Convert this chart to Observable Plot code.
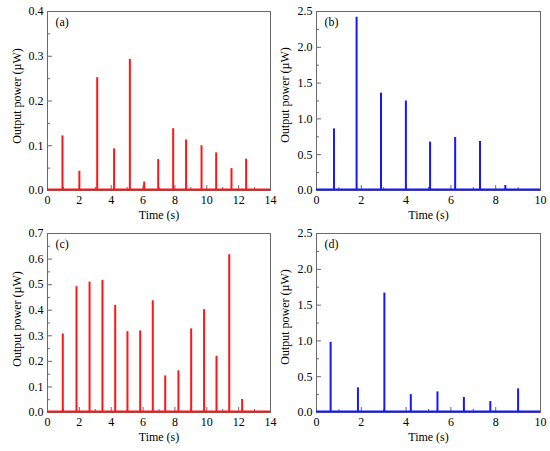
<!DOCTYPE html>
<html><head><meta charset="utf-8">
<script src="https://cdn.jsdelivr.net/npm/d3@7"></script>
<script src="https://cdn.jsdelivr.net/npm/@observablehq/plot@0.6"></script>
<style>
body{margin:0;background:#fff;}
#wrap{position:relative;width:550px;height:451px;background:#fff;overflow:hidden;}
#wrap svg{position:absolute;}
</style></head><body><div id="wrap"></div>
<script>
// Panel (a)
const timesA = [0.94, 2.0, 3.12, 4.18, 5.17, 6.07, 6.95, 7.89, 8.70, 9.67, 10.59, 11.55, 12.47];
const powerA = [0.122, 0.043, 0.252, 0.093, 0.293, 0.019, 0.069, 0.138, 0.113, 0.100, 0.084, 0.049, 0.070];
// Panel (b)
const timesB = [0.78, 1.79, 2.88, 3.99, 5.07, 6.19, 7.30, 8.43];
const powerB = [0.86, 2.42, 1.36, 1.25, 0.675, 0.74, 0.685, 0.07];
// Panel (c)
const timesC = [0.96, 1.82, 2.64, 3.45, 4.25, 5.02, 5.82, 6.61, 7.39, 8.22, 9.02, 9.83, 10.61, 11.41, 12.22];
const powerC = [0.307, 0.492, 0.510, 0.517, 0.419, 0.316, 0.319, 0.437, 0.143, 0.163, 0.327, 0.402, 0.220, 0.617, 0.051];
// Panel (d)
const timesD = [0.63, 1.85, 3.03, 4.21, 5.40, 6.58, 7.76, 9.0];
const powerD = [0.98, 0.344, 1.668, 0.25, 0.288, 0.209, 0.153, 0.33];

// Tick values
const xTicks14 = [0, 2, 4, 6, 8, 10, 12, 14];
const xMinor14 = [1, 3, 5, 7, 9, 11, 13];
const xTicks10 = [0, 2, 4, 6, 8, 10];
const xMinor10 = [1, 3, 5, 7, 9];
const yTicksA = [0, 0.1, 0.2, 0.3, 0.4];
const yMinorA = [0.05, 0.15, 0.25, 0.35];
const yTicksB = [0, 0.5, 1.0, 1.5, 2.0, 2.5];
const yMinorB = [0.25, 0.75, 1.25, 1.75, 2.25];
const yTicksC = [0, 0.1, 0.2, 0.3, 0.4, 0.5, 0.6, 0.7];
const yMinorC = [0.05, 0.15, 0.25, 0.35, 0.45, 0.55, 0.65];

const xLabel = "Time (s)";
const yLabel = "Output power (\u00B5W)";
const RED = "#ff1616";
const BLUE = "#1616ff";
const FONT = "Liberation Serif";
const FS = 12;

function panel(o) {
  const innerW = o.w - o.ml - o.mr;
  const innerH = o.h - o.mt - o.mb;
  const fmtY = d3.format(".1f");
  const t = {fontFamily: FONT, fontSize: FS, fill: "black"};
  const svg = Plot.plot({
    width: o.w, height: o.h,
    marginLeft: o.ml, marginRight: o.mr, marginTop: o.mt, marginBottom: o.mb,
    style: {background: "transparent", overflow: "visible", color: "black"},
    x: {domain: [0, o.xMax]},
    y: {domain: [0, o.yMax]},
    marks: [
      Plot.frame({stroke: "#6a6a6a", strokeWidth: 1}),
      Plot.tickX(o.xTicks, {x: d => d, insetTop: innerH - 5, stroke: "#6a6a6a"}),
      Plot.tickX(o.xMinor, {x: d => d, insetTop: innerH - 3, stroke: "#6a6a6a"}),
      Plot.tickY(o.yTicks, {y: d => d, insetRight: innerW - 5, stroke: "#6a6a6a"}),
      Plot.tickY(o.yMinor, {y: d => d, insetRight: innerW - 3, stroke: "#6a6a6a"}),
      Plot.axisX({ticks: o.xTicks, tickSize: 0, tickPadding: 5, tickFormat: d => String(d), label: null, ...t}),
      Plot.axisY({ticks: o.yTicks, tickSize: 0, tickPadding: 4, tickFormat: fmtY, label: null, ...t}),
      Plot.ruleY([0], {stroke: o.color, strokeWidth: 2, dy: -1}),
      Plot.ruleX(o.times, {x: (d, i) => o.times[i], y1: 0, y2: (d, i) => o.power[i], stroke: o.color, strokeWidth: 2}),
      Plot.text([xLabel], {text: d => d, frameAnchor: "bottom", textAnchor: "middle", lineAnchor: "middle", dy: 25, ...t}),
      Plot.text([yLabel], {text: d => d, frameAnchor: "left", textAnchor: "middle", lineAnchor: "middle", dx: o.ylDx, dy: o.ylDy, rotate: -90, ...t}),
      Plot.text([o.label], {text: d => d, frameAnchor: "top-left", textAnchor: "start", lineAnchor: "middle", dx: 8, dy: 11, ...t})
    ]
  });
  svg.style.left = o.left + "px";
  svg.style.top = o.top + "px";
  document.getElementById("wrap").appendChild(svg);
}

panel({times: timesA, power: powerA, color: RED, xMax: 14, yMax: 0.4,
  xTicks: xTicks14, xMinor: xMinor14, yTicks: yTicksA, yMinor: yMinorA, label: "(a)",
  left: 0, top: 0, w: 275, h: 225, ml: 47, mr: 5, mt: 11, mb: 35, ylDx: -30, ylDy: -5});
panel({times: timesB, power: powerB, color: BLUE, xMax: 10, yMax: 2.5,
  xTicks: xTicks10, xMinor: xMinor10, yTicks: yTicksB, yMinor: yMinorB, label: "(b)",
  left: 275, top: 0, w: 275, h: 225, ml: 41, mr: 10, mt: 11, mb: 35, ylDx: -31, ylDy: -6});
panel({times: timesC, power: powerC, color: RED, xMax: 14, yMax: 0.7,
  xTicks: xTicks14, xMinor: xMinor14, yTicks: yTicksC, yMinor: yMinorC, label: "(c)",
  left: 0, top: 225, w: 275, h: 226, ml: 47, mr: 5, mt: 8, mb: 39, ylDx: -30, ylDy: -4});
panel({times: timesD, power: powerD, color: BLUE, xMax: 10, yMax: 2.5,
  xTicks: xTicks10, xMinor: xMinor10, yTicks: yTicksB, yMinor: yMinorB, label: "(d)",
  left: 275, top: 225, w: 275, h: 226, ml: 41, mr: 10, mt: 8, mb: 39, ylDx: -31, ylDy: -6});
</script>
</body></html>
